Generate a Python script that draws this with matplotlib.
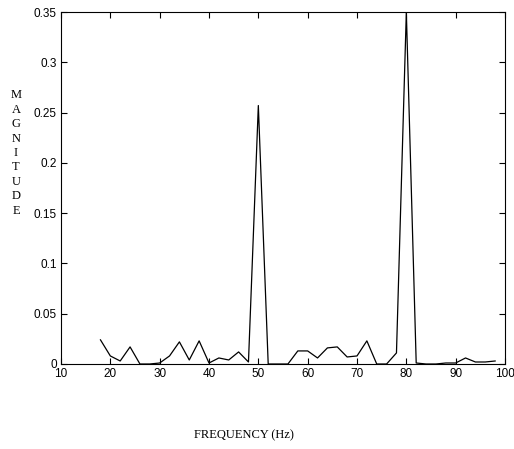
import matplotlib
matplotlib.use("Agg")
import matplotlib.pyplot as plt

freq = [18, 20, 22, 24, 26, 28, 30, 32, 34, 36, 38, 40, 42, 44, 46, 48, 50, 52, 54, 56,
        58, 60, 62, 64, 66, 68, 70, 72, 74, 76, 78, 80, 82, 84, 86, 88, 90, 92, 94, 96, 98]
magnitude = [0.024, 0.008, 0.003, 0.017, 0.0, 0.0, 0.001, 0.008, 0.022, 0.004, 0.023, 0.001,
             0.006, 0.004, 0.012, 0.002, 0.257, 0.0, 0.0, 0.0, 0.013, 0.013, 0.006, 0.016,
             0.017, 0.007, 0.008, 0.023, 0.0, 0.0, 0.011, 0.35, 0.001, 0.0, 0.0, 0.001,
             0.001, 0.006, 0.002, 0.002, 0.003]
xticks = [10, 20, 30, 40, 50, 60, 70, 80, 90, 100]
yticks = [0, 0.05, 0.1, 0.15, 0.2, 0.25, 0.3, 0.35]

fig = plt.figure(figsize=(5.14, 4.49), dpi=100)
ax = fig.add_axes([61/514, 1 - 364/449, (505 - 61)/514, (364 - 12)/449])
ax.plot(freq, magnitude, color="black", linewidth=0.9)
ax.set_xlim(10, 100)
ax.set_ylim(0, 0.35)
ax.set_xticks(xticks)
ax.set_yticks(yticks)
ax.set_xticklabels([str(v) for v in xticks])
ax.set_yticklabels(["0", "0.05", "0.1", "0.15", "0.2", "0.25", "0.3", "0.35"])
ax.tick_params(direction="in", top=True, right=True, length=4, width=0.8,
               labelsize=8.5, pad=3)
for lab in ax.get_xticklabels() + ax.get_yticklabels():
    lab.set_fontfamily("Liberation Sans")
for s in ax.spines.values():
    s.set_linewidth(0.8)

fig.text(244/514, 1 - 435/449, "FREQUENCY (Hz)", ha="center", va="center",
         fontsize=9, family="Liberation Serif")
fig.text(16/514, 1 - 153/449, "\n".join("MAGNITUDE"), ha="center", va="center",
         fontsize=9, family="Liberation Serif", linespacing=1.27)

fig.savefig("out.png", dpi=100)
